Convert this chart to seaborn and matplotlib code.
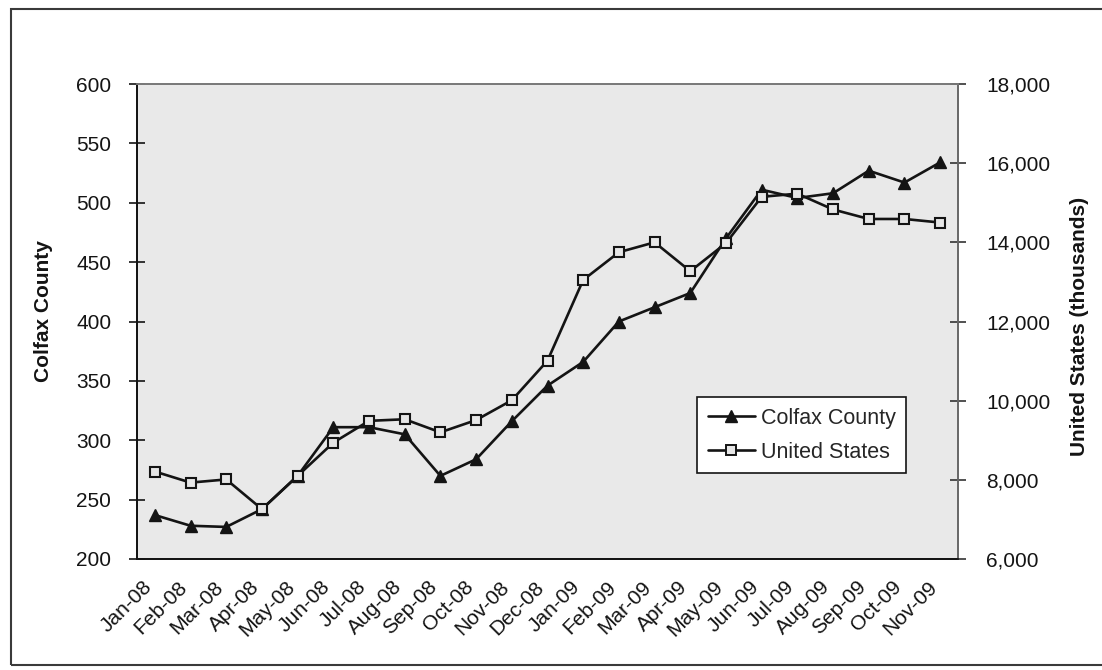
import numpy as np
import pandas as pd
import matplotlib
matplotlib.use("Agg")
import matplotlib.pyplot as plt
import matplotlib.transforms as mtransforms
from matplotlib.lines import Line2D
from matplotlib.patches import Rectangle
from matplotlib.ticker import FuncFormatter
import seaborn as sns

# Monthly unemployment: Colfax County (persons) and United States (thousands)
months = ["Jan-08", "Feb-08", "Mar-08", "Apr-08", "May-08", "Jun-08", "Jul-08",
          "Aug-08", "Sep-08", "Oct-08", "Nov-08", "Dec-08", "Jan-09", "Feb-09",
          "Mar-09", "Apr-09", "May-09", "Jun-09", "Jul-09", "Aug-09", "Sep-09",
          "Oct-09", "Nov-09"]
colfax = [237, 228, 227, 242, 270, 311, 311, 305, 270, 284, 316, 346,
          366, 400, 412, 424, 470, 511, 504, 508, 527, 517, 534]
united_states = [8210, 7930, 8010, 7260, 8100, 8940, 9490, 9530, 9200, 9510,
                 10010, 11010, 13050, 13750, 14000, 13270, 13980, 15150,
                 15230, 14830, 14590, 14590, 14500]
left_ticks = [200, 250, 300, 350, 400, 450, 500, 550, 600]
right_ticks = [6000, 8000, 10000, 12000, 14000, 16000, 18000]

df = pd.DataFrame({
    "month": months,
    "pos": np.arange(len(months)),
    "Colfax County": colfax,
    "United States": united_states,
})

sns.set_style("white")
plt.rcParams["font.family"] = ["Liberation Sans", "DejaVu Sans"]

INK = "#141414"
FS = 15
LW = 1.9

fig = plt.figure(figsize=(11.02, 6.70), dpi=100)
ax = fig.add_axes([137 / 1102, 1 - 559 / 670, 821 / 1102, 475 / 670])
ax.set_facecolor("#e9e9e9")
ax2 = ax.twinx()

sns.lineplot(data=df, x="pos", y="Colfax County", ax=ax, color=INK, lw=LW,
             marker="^", markersize=9, markerfacecolor=INK,
             markeredgecolor=INK, markeredgewidth=1)
sns.lineplot(data=df, x="pos", y="United States", ax=ax2, color=INK, lw=LW,
             marker="s", markersize=7, markerfacecolor="#e6e6e6",
             markeredgecolor=INK, markeredgewidth=1.5)

# Category axis: tick marks between months, labels at month centres
n = len(months)
ax.set_xlim(-0.5, n - 0.5)
ax.set_xticks(np.arange(-0.5, n, 1.0))
ax.set_xticklabels([])
ax.set_xticks(df["pos"], minor=True)
ax.set_xticklabels(months, minor=True, rotation=45, ha="right", va="center",
                   rotation_mode="anchor", fontsize=FS, color=INK)
ax.tick_params(axis="x", which="major", direction="inout", length=11,
               width=1.1, color="#333333")
ax.tick_params(axis="x", which="minor", length=0, pad=18)
shift = mtransforms.ScaledTranslation(-6 / 100, 0, fig.dpi_scale_trans)
for lab in ax.get_xticklabels(minor=True):
    lab.set_transform(lab.get_transform() + shift)

ax.set_ylim(200, 600)
ax.set_yticks(left_ticks)
ax.tick_params(axis="y", direction="inout", length=11, width=1.2, color=INK,
               labelsize=FS, labelcolor=INK, pad=13)

ax2.set_ylim(6000, 18000)
ax2.set_yticks(right_ticks)
ax2.yaxis.set_major_formatter(FuncFormatter(lambda v, p: f"{int(v):,}"))
ax2.tick_params(axis="y", direction="inout", length=11, width=1.2,
                color="#333333", labelsize=FS, labelcolor=INK, pad=15)

ax.set_xlabel("")
ax.set_ylabel("Colfax County", fontsize=FS, fontweight="bold", color=INK)
ax.yaxis.set_label_coords(-0.102, 0.522)
ax2.set_ylabel("United States (thousands)", fontsize=FS, fontweight="bold",
               color=INK)
ax2.yaxis.set_label_coords(1.136, 0.49)

for a in (ax, ax2):
    a.spines["left"].set_color(INK)
    a.spines["bottom"].set_color(INK)
    a.spines["top"].set_color("#7a7a7a")
    a.spines["right"].set_color("#6a6a6a")
    for s in a.spines.values():
        s.set_linewidth(1.3)

handles = [
    Line2D([], [], color=INK, lw=LW, marker="^", markersize=8.5,
           markerfacecolor=INK, markeredgecolor=INK),
    Line2D([], [], color=INK, lw=LW, marker="s", markersize=6.5,
           markerfacecolor="#e6e6e6", markeredgecolor=INK,
           markeredgewidth=1.4),
]
leg = ax2.legend(handles, ["Colfax County", "United States"],
                 loc="upper left", bbox_to_anchor=(697 / 1102, 1 - 397 / 670),
                 bbox_transform=fig.transFigure, borderaxespad=0,
                 fontsize=15.5, frameon=True, fancybox=False, framealpha=1,
                 edgecolor=INK, facecolor="white", handlelength=2.2,
                 handletextpad=0.25, labelspacing=0.6, borderpad=0.5)
leg.get_frame().set_linewidth(1.2)

# Outer frame around the exhibit
fig.patches.append(Rectangle((11 / 1102, 5 / 670), 1.2, 1 - 14 / 670,
                             transform=fig.transFigure, fill=False,
                             edgecolor="#3a3a3a", lw=1.5))

fig.savefig("out.png", dpi=100)
